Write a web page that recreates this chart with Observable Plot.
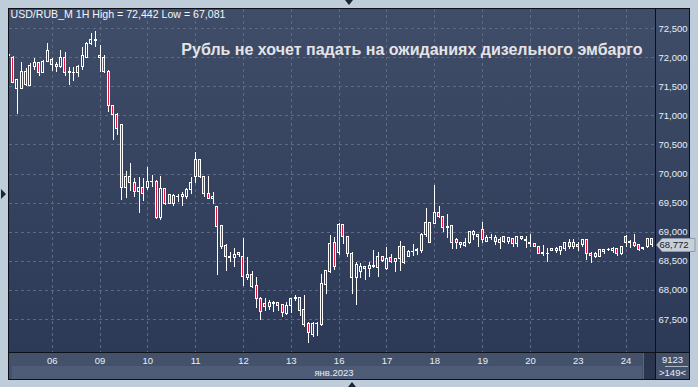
<!DOCTYPE html>
<html><head><meta charset="utf-8">
<script src="https://cdn.jsdelivr.net/npm/d3@7"></script>
<script src="https://cdn.jsdelivr.net/npm/@observablehq/plot@0.6"></script>
<style>
html,body{margin:0;padding:0;background:#bfccda;}
#wrap{position:relative;width:698px;height:387px;overflow:hidden;background:#bfccda;font-family:"Liberation Sans",Arial,sans-serif;}
.abs{position:absolute;}
#chart{position:absolute;left:0;top:0;}
#chart svg line, #chart svg rect {shape-rendering:crispEdges;}
.corner{position:absolute;left:656px;width:33px;text-align:center;font-size:9.5px;color:#e8eef5;line-height:10px;}
</style></head>
<body><div id="wrap">
 <div class="abs" style="left:8px;top:8px;width:682px;height:372px;background:#0c1018"></div>
 <div class="abs" style="left:9px;top:9px;width:646px;height:343px;background:linear-gradient(#404d68,#2c3957)"></div>
 <div class="abs" style="left:656px;top:9px;width:33px;height:343px;background:linear-gradient(#404d68,#2c3957)"></div>
 <div class="abs" style="left:9px;top:353px;width:646px;height:26px;background:#44516b"></div>
 <div class="abs" style="left:12px;top:366px;width:630px;height:13px;background:#4f5c78"></div>
 <div class="abs" style="left:643px;top:353px;width:12px;height:26px;background:#2b364e;border-left:1px solid #5a6680;box-sizing:border-box"></div>
 <div class="abs" style="left:656px;top:353px;width:33px;height:26px;background:#44516b"></div>
 <div class="abs" style="left:665px;top:366px;width:23px;height:1px;background:#a9b3c2"></div>
 <div class="abs" style="left:345px;top:0px;width:0;height:0;border-left:4px solid transparent;border-right:4px solid transparent;border-top:5px solid #1d2534"></div>
 <div class="abs" style="left:348px;top:382px;width:0;height:0;border-left:4px solid transparent;border-right:4px solid transparent;border-bottom:5px solid #1d2534"></div>
 <div class="abs" style="left:1px;top:189px;width:0;height:0;border-top:5px solid transparent;border-bottom:5px solid transparent;border-left:5px solid #1d2534"></div>
 <div id="chart"></div>
 <div class="corner" id="cnt" style="top:355px"></div>
 <div class="corner" id="bars" style="top:368px"></div>
</div>
<script>
const symbol = "USD/RUB_M";
const timeframe = "1H";
const title = "Рубль не хочет падать на ожиданиях дизельного эмбарго";
const monthLabel = "янв.2023";
const counterLabel = "9123";

const open = [72.02,72.00,71.469,71.452,71.521,71.52,71.847,71.90,71.744,71.916,
71.967,71.881,71.83,72.00,71.727,71.744,71.727,71.83,72.00,72.242,72.294,
72.036,72.00,71.761,71.16,71.022,70.834,69.768,69.957,69.837,69.683,69.768,
69.768,69.871,69.871,69.236,69.734,69.631,69.493,69.597,69.597,69.597,69.717,
69.94,70.232,69.957,69.648,69.597,69.425,69.098,68.755,68.566,68.549,68.60,
68.566,68.205,68.257,68.068,67.844,67.758,67.707,67.775,67.775,67.741,67.587,
67.724,67.844,67.861,67.655,67.415,67.226,67.415,67.398,68.085,68.308,68.806,
68.635,69.116,68.909,68.617,68.205,68.308,68.394,68.36,68.394,68.377,68.566,
68.36,68.549,68.48,68.531,68.738,68.566,68.66,68.669,68.669,68.944,69.15,
69.133,69.322,69.253,69.081,69.098,68.858,68.806,68.755,68.806,68.995,68.944,
69.03,68.84,68.892,68.892,68.806,68.909,68.84,68.875,68.789,68.909,68.858,
68.789,68.789,68.738,68.635,68.617,68.669,68.669,68.669,68.703,68.806,68.738,
68.772,68.772,68.858,68.617,68.617,68.566,68.652,68.686,68.669,68.703,68.617,
68.909,68.806,68.806,68.772,68.703,68.738,68.875];
const high = [72.09,72.02,71.61,71.916,71.813,71.899,71.985,71.916,71.95,72.242,
71.985,71.916,72.12,72.088,71.83,71.83,71.864,72.174,72.26,72.414,72.442,
72.208,72.036,71.778,71.177,71.04,70.851,70.043,70.181,69.923,69.94,69.923,
70.112,69.975,69.88,69.957,69.74,69.648,69.648,69.648,69.683,69.751,69.94,
70.37,70.25,69.96,69.957,69.683,69.442,69.115,68.789,68.652,68.72,68.652,
68.892,68.566,68.325,68.222,67.878,67.861,67.827,67.81,67.793,67.75,67.793,
67.861,67.913,67.878,67.913,67.449,67.449,67.449,68.274,68.342,68.944,68.91,
69.15,69.12,68.91,68.652,68.48,68.463,68.40,68.48,68.686,68.652,68.583,
68.738,68.617,68.549,68.84,68.75,68.686,68.789,68.72,68.978,69.408,69.16,
69.803,69.442,69.26,69.305,69.10,68.892,68.823,68.892,69.013,69.03,68.95,
69.167,68.944,68.96,68.944,68.909,68.926,68.909,68.892,68.92,68.926,68.926,
68.96,68.806,68.74,68.772,68.72,68.72,68.738,68.755,68.81,68.875,68.875,
68.823,68.875,68.86,68.652,68.652,68.703,68.703,68.72,68.738,68.71,68.755,
68.944,68.858,68.96,68.789,68.738,68.875,68.892];
const low = [71.98,71.555,71.022,71.45,71.504,71.50,71.778,71.675,71.74,71.91,
71.761,71.744,71.81,71.675,71.52,71.589,71.658,71.778,72.00,72.208,72.174,
71.744,71.727,71.057,70.576,70.662,69.545,69.579,69.70,69.597,69.322,69.528,
69.717,69.768,69.219,69.201,69.459,69.476,69.442,69.51,69.442,69.562,69.648,
69.837,69.923,69.597,69.562,69.476,68.257,68.703,68.325,68.48,68.394,68.566,
68.068,68.171,68.033,67.69,67.483,67.638,67.655,67.621,67.638,67.535,67.57,
67.604,67.81,67.552,67.363,67.081,67.191,67.208,67.38,67.93,68.29,68.342,
68.60,68.789,68.566,67.93,67.741,68.205,68.171,68.222,68.377,68.222,68.48,
68.35,68.463,68.308,68.325,68.446,68.56,68.583,68.60,68.635,68.91,68.806,
69.13,69.236,68.995,68.892,68.703,68.703,68.72,68.738,68.789,68.858,68.738,
68.806,68.823,68.858,68.772,68.703,68.806,68.789,68.738,68.738,68.858,68.72,
68.738,68.73,68.61,68.583,68.48,68.66,68.635,68.60,68.669,68.703,68.703,
68.669,68.738,68.514,68.463,68.549,68.56,68.617,68.669,68.635,68.583,68.60,
68.738,68.72,68.738,68.669,68.686,68.72,68.738];
const close = [72.05,71.572,71.607,71.761,71.761,71.864,71.899,71.744,71.916,72.122,
71.881,71.83,72.00,71.727,71.761,71.727,71.83,72.02,72.242,72.294,72.285,
72.00,71.761,71.16,71.022,70.765,69.768,69.94,69.837,69.683,69.768,69.648,
69.871,69.862,69.236,69.734,69.476,69.493,69.614,69.605,69.631,69.717,69.837,
70.232,69.94,69.648,69.579,69.562,69.081,68.738,68.566,68.557,68.60,68.635,
68.222,68.257,68.05,67.844,67.621,67.707,67.775,67.767,67.724,67.604,67.724,
67.844,67.861,67.638,67.398,67.26,67.415,67.42,68.102,68.325,68.789,68.394,
69.116,68.909,68.617,68.205,68.428,68.394,68.36,68.411,68.411,68.566,68.497,
68.531,68.48,68.531,68.738,68.463,68.652,68.665,68.686,68.944,69.15,68.823,
69.322,69.253,69.064,69.072,68.806,68.806,68.772,68.806,68.995,68.944,68.909,
68.858,68.892,68.895,68.84,68.858,68.84,68.892,68.789,68.909,68.875,68.85,
68.823,68.738,68.617,68.617,68.62,68.703,68.703,68.738,68.806,68.738,68.806,
68.738,68.858,68.617,68.583,68.566,68.686,68.686,68.69,68.703,68.617,68.738,
68.806,68.84,68.755,68.686,68.73,68.875,68.772];

const dayLabels = ["06","09","10","11","12","13","16","17","18","19","20","23","24"];
const dayStart  = [10,21,32,43,54,65,76,87,98,109,120,131,142];
const yTicks = [67.5,68,68.5,69,69.5,70,70.5,71,71.5,72,72.5];

const candles = open.map((o, i) => ({i, o, h: high[i], l: low[i], c: close[i]}));
const fmt = v => d3.format(".3f")(v).replace(".", ",");
const header = `${symbol} ${timeframe} High = ${fmt(d3.max(high))} Low = ${fmt(d3.min(low))}`;

const RED = "#e0143c", UPFILL = "#34425f", WHITE = "#ffffff", GRID = "#5c6a86", TXT = "#e8eef5";
const hw = 0.345;

const plot = Plot.plot({
  width: 698, height: 387,
  marginLeft: 9, marginRight: 43, marginTop: 9, marginBottom: 35,
  style: {background: "transparent", fontFamily: "Liberation Sans, Arial, sans-serif", fontSize: "9.5px", color: TXT, overflow: "visible"},
  x: {type: "linear", domain: [0.184, 148.76], axis: null},
  y: {domain: [66.933, 72.8265], axis: null},
  marks: [
    Plot.gridY(yTicks, {stroke: GRID, strokeOpacity: 1, strokeDasharray: "3,3"}),
    Plot.gridX(dayStart, {stroke: GRID, strokeOpacity: 1, strokeDasharray: "3,3"}),
    Plot.ruleX(candles, {x: "i", y1: "l", y2: "h", stroke: WHITE, strokeWidth: 1, clip: "frame"}),
    Plot.rect(candles, {x1: d => d.i - hw, x2: d => d.i + hw, y1: d => Math.min(d.o, d.c), y2: d => Math.max(d.o, d.c),
      fill: WHITE, insetTop: -0.5, insetBottom: -0.5, clip: "frame"}),
    Plot.rect(candles.filter(d => Math.abs(d.o - d.c) >= 0.03), {x1: d => d.i - hw, x2: d => d.i + hw,
      y1: d => Math.min(d.o, d.c), y2: d => Math.max(d.o, d.c),
      fill: d => d.c < d.o ? RED : UPFILL, insetTop: 0.5, insetBottom: 0.5, insetLeft: 1, insetRight: 1, clip: "frame"}),
    Plot.axisY(yTicks, {anchor: "right", tickSize: 0, tickPadding: 3, tickFormat: fmt, label: null, textAnchor: "start", fontSize: 9.5}),
    Plot.axisX(dayStart, {anchor: "bottom", tickSize: 0, tickPadding: 5, tickFormat: d => dayLabels[dayStart.indexOf(d)], label: null, fontSize: 9.5}),
    Plot.text([header], {text: d => d, frameAnchor: "top-left", dx: 1, dy: 1, lineAnchor: "top", textAnchor: "start", fill: "#f2f5fa", fontSize: 10.6}),
    Plot.text([title], {text: d => d, frameAnchor: "top-right", dx: -13, dy: 34, lineAnchor: "top", textAnchor: "end", fill: "#e4e4e6", fontSize: 16, fontWeight: "bold"}),
    Plot.text([monthLabel], {text: d => d, frameAnchor: "bottom", dx: 1.5, dy: 20, lineAnchor: "middle", fill: TXT, fontSize: 9.5})
  ]
});
document.getElementById("chart").appendChild(plot);

// last price marker
const last = close[close.length - 1];
const yy = plot.scale("y").apply(last);
const svg = d3.select(plot);
svg.append("path")
  .attr("d", `M656.5,${yy} L662,${yy - 6.5} L695,${yy - 6.5} L695,${yy + 6.5} L662,${yy + 6.5} Z`)
  .attr("fill", "#c7cfd9").attr("stroke", "#8d98a8").attr("stroke-width", 1);
svg.append("text").attr("x", 674).attr("y", yy).attr("dy", "0.35em")
  .attr("text-anchor", "middle").attr("font-size", 9.5).attr("fill", "#14202e")
  .attr("font-family", "Liberation Sans, Arial, sans-serif").text(fmt(last));

document.getElementById("cnt").textContent = counterLabel;
document.getElementById("bars").textContent = ">" + candles.length + "<";
</script>
</body></html>
